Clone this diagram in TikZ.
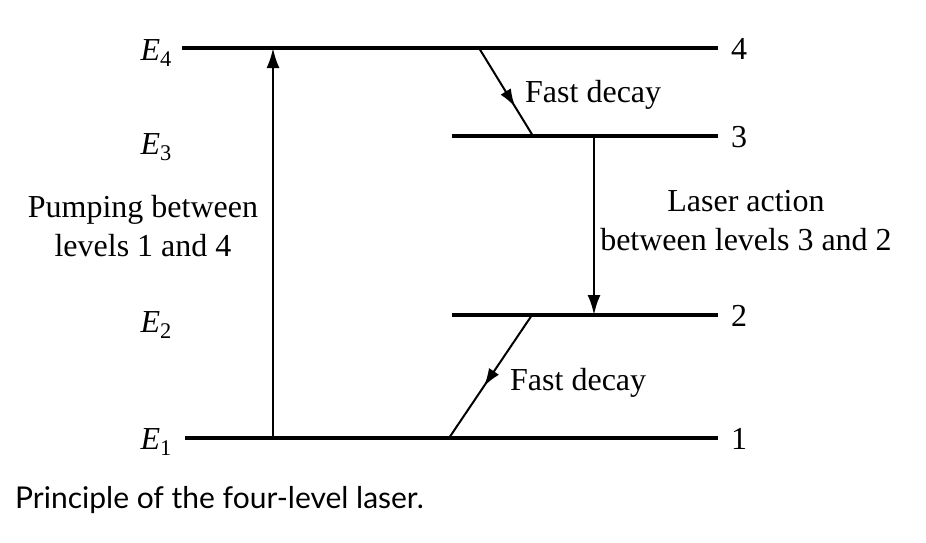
\documentclass[tikz,border=0pt]{standalone}
\usepackage{fontspec}
\setmainfont{Liberation Serif}
\setsansfont{Lato}
\usetikzlibrary{arrows.meta,decorations.markings}
\tikzset{
  level/.style = {line width=3.2pt},
  trans/.style = {line width=2.6pt, -{Latex[length=20pt,width=13pt]}},
  decay/.style = {line width=2pt, decoration={markings,
    mark=at position #1 with {\arrow{Latex[length=18pt,width=12pt]}}},
    postaction={decorate}},
  txt/.style = {font=\fontsize{32}{39}\selectfont, inner sep=0pt},
  elbl/.style = {txt, anchor=base east},
  nlbl/.style = {txt, anchor=base west},
}
\begin{document}
\begin{tikzpicture}[x=1pt,y=-1pt]
  \useasboundingbox (0,0) rectangle (926,542);
% energy levels
  \coordinate (l4a) at (182,48);  \coordinate (l4b) at (718,48);
  \coordinate (l3a) at (452,136); \coordinate (l3b) at (718,136);
  \coordinate (l2a) at (452,315); \coordinate (l2b) at (718,315);
  \coordinate (l1a) at (185,438); \coordinate (l1b) at (718,438);
  \draw[level] (l4a) -- (l4b);
  \draw[level] (l3a) -- (l3b);
  \draw[level] (l2a) -- (l2b);
  \draw[level] (l1a) -- (l1b);

  \node[elbl] (e4) at (172,60) {\textit{E}\textsubscript{4}};
  \node[elbl] (e3) at (172,154) {\textit{E}\textsubscript{3}};
  \node[elbl] (e2) at (172,332) {\textit{E}\textsubscript{2}};
  \node[elbl] (e1) at (172,449) {\textit{E}\textsubscript{1}};
  \node[nlbl] (n4) at (731,59) {4};
  \node[nlbl] (n3) at (731,147) {3};
  \node[nlbl] (n2) at (731,326) {2};
  \node[nlbl] (n1) at (731,449) {1};

% transitions
  \coordinate (p1) at (273,438); \coordinate (p4) at (273,48);
  \draw[trans] (p1) -- (p4);
  \coordinate (d4) at (479,48); \coordinate (d3) at (533,136);
  \draw[decay=0.67] (d4) -- (d3);
  \coordinate (s3) at (594,136); \coordinate (s2) at (594,315);
  \draw[trans] (s3) -- (s2);
  \coordinate (d2) at (532,315); \coordinate (d1) at (449,438);
  \draw[decay=0.58] (d2) -- (d1);

% labels
  \node[txt, align=center] (pump) at (143,226) {Pumping between\\levels 1 and 4};
  \node[txt, align=center] (laser) at (746,221) {Laser action\\between levels 3 and 2};
  \node[txt, anchor=base west] (fd1) at (525,102) {Fast decay};
  \node[txt, anchor=base west] (fd2) at (510,390) {Fast decay};
  \node[font=\sffamily\fontsize{30}{36}\selectfont, inner sep=0pt, anchor=base west] (cap) at (15,508)
    {Principle of the four-level laser.};
\end{tikzpicture}
\end{document}
